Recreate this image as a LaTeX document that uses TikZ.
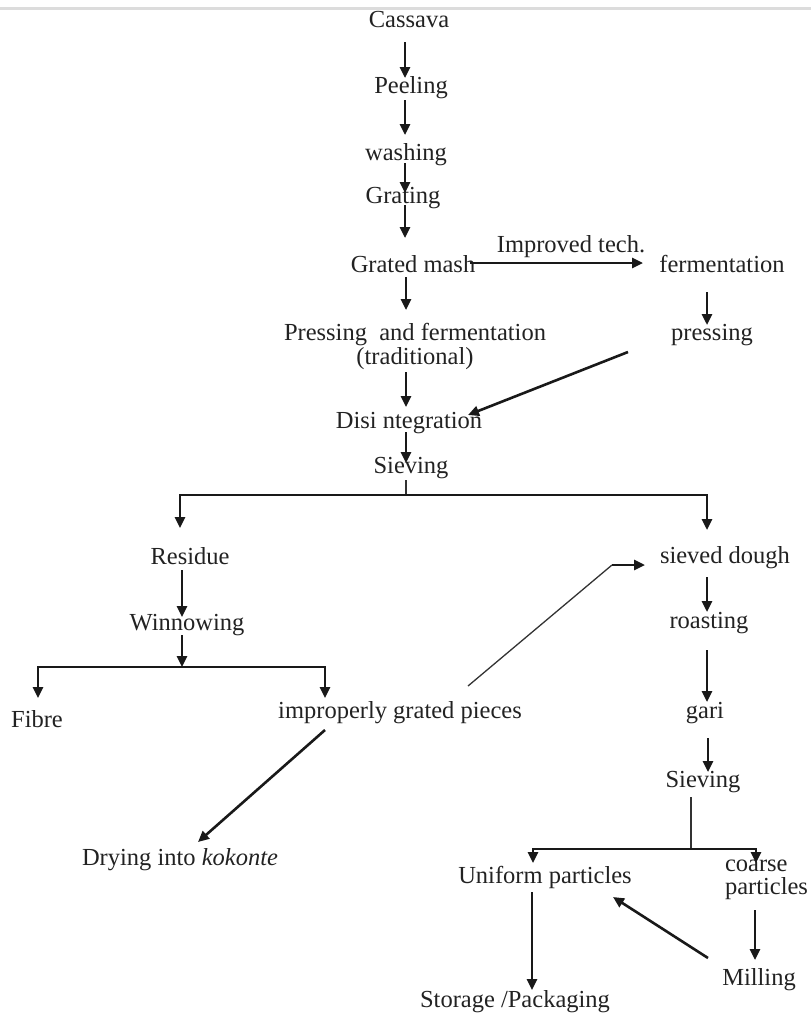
\documentclass[tikz,border=0pt]{standalone}
\usepackage{fontspec}
\setmainfont{Liberation Serif}
\usetikzlibrary{arrows.meta}
\definecolor{txt}{HTML}{222222}
\definecolor{topline}{HTML}{DCDCDC}
\begin{document}
\begin{tikzpicture}[x=1pt,y=-1pt,
  lbl/.style={inner sep=0pt,outer sep=0pt,text=txt,font=\fontsize{24.5}{22}\selectfont},
  arr/.style={line width=2.6pt,draw=black!90,-{Triangle[length=11pt,width=10pt]}},
  thinline/.style={line width=1.3pt,draw=black!80},
  thickline/.style={line width=2.6pt,draw=black!90}]
\useasboundingbox (0,0) rectangle (811,1015);
\fill[topline] (0,6.5) rectangle (811,9.5);

% nodes
\node[lbl,anchor=base] (cass) at (409,27) {Cassava};
\node[lbl,anchor=base] (peel) at (411,93) {Peeling};
\node[lbl,anchor=base] (wash) at (406,160) {washing};
\node[lbl,anchor=base] (grat) at (403,203) {Grating};
\node[lbl,anchor=base] (mash) at (413,272) {Grated mash};
\node[lbl,anchor=base] (tech) at (571,252) {Improved tech.};
\node[lbl,anchor=base] (ferm) at (722,272) {fermentation};
\node[lbl,anchor=base] (press) at (712,340) {pressing};
\node[lbl,anchor=north,align=center] (trad) at (415,323.6) {Pressing\ \ and fermentation\\(traditional)};
\node[lbl,anchor=base] (disi) at (409,428) {Disi ntegration};
\node[lbl,anchor=base] (sieva) at (411,473) {Sieving};
\node[lbl,anchor=base] (resid) at (190,564) {Residue};
\node[lbl,anchor=base] (winn) at (187,630) {Winnowing};
\node[lbl,anchor=base] (fibre) at (37,727) {Fibre};
\node[lbl,anchor=base] (impr) at (400,718) {improperly grated pieces};
\node[lbl,anchor=base] (dry) at (180,865) {Drying into \textit{kokonte}};
\node[lbl,anchor=base] (sdough) at (725,563) {sieved dough};
\node[lbl,anchor=base] (roast) at (709,628) {roasting};
\node[lbl,anchor=base] (gari) at (705,718) {gari};
\node[lbl,anchor=base] (sievb) at (703,787) {Sieving};
\node[lbl,anchor=base] (unif) at (545,883) {Uniform particles};
\node[lbl,anchor=north west,align=left,font=\fontsize{24.5}{23}\selectfont] (coarse) at (725,860) {coarse\\particles};
\node[lbl,anchor=base] (mill) at (759,985) {Milling};
\node[lbl,anchor=base] (stor) at (515,1007) {Storage /Packaging};

% main column
\draw[arr] ([shift={(-4,15)}]cass.base) -- ([shift={(-6,-15)}]peel.base);
\draw[arr] ([shift={(-6,7)}]peel.base) -- ([shift={(-1,-25)}]wash.base);
\draw[arr] ([shift={(-1,3)}]wash.base) -- ([shift={(2,-10)}]grat.base);
\draw[arr] ([shift={(2,2)}]grat.base) -- ([shift={(-8,-34)}]mash.base);
\draw[arr] ([shift={(-7,5)}]mash.base) -- ([shift={(-9,-13.6)}]trad.north);
\draw[arr] ([shift={(-9,48.4)}]trad.north) -- ([shift={(-3,-21)}]disi.base);
\draw[arr] ([shift={(-3,4)}]disi.base) -- ([shift={(-5,-10)}]sieva.base);

% improved technology branch
\draw[arr] ([shift={(57,-9)}]mash.base) -- ([shift={(-79,-9)}]ferm.base);
\draw[arr] ([shift={(-15,20)}]ferm.base) -- ([shift={(-5,-15)}]press.base);
\draw[arr] ([shift={(-84,12)}]press.base) -- ([shift={(59,-13)}]disi.base);

% sieving split
\coordinate (sj) at ([shift={(-5,22)}]sieva.base);
\draw[thinline] ([shift={(-5,7)}]sieva.base) -- (sj);
\draw[arr] (sj) -| ([shift={(-10,-36)}]resid.base);
\draw[arr] (sj) -| ([shift={(-18,-33)}]sdough.base);

% residue branch
\draw[arr] ([shift={(-8,6)}]resid.base) -- ([shift={(-5,-13)}]winn.base);
\coordinate (wj) at ([shift={(-5,37)}]winn.base);
\draw[arr] ([shift={(-5,5)}]winn.base) -- (wj);
\draw[arr] (wj) -| ([shift={(1,-29)}]fibre.base);
\draw[arr] (wj) -| ([shift={(-75,-20)}]impr.base);
\coordinate (bend) at ([shift={(-113,2)}]sdough.base);
\draw[thinline] ([shift={(68,-32)}]impr.base) -- (bend);
\draw[arr] (bend) -- ([shift={(-80,2)}]sdough.base);
\draw[arr] ([shift={(-75,12)}]impr.base) -- ([shift={(18,-23)}]dry.base);

% gari column
\draw[arr] ([shift={(-18,14)}]sdough.base) -- ([shift={(-2,-16)}]roast.base);
\draw[arr] ([shift={(-2,22)}]roast.base) -- ([shift={(2,-16)}]gari.base);
\draw[arr] ([shift={(3,20)}]gari.base) -- ([shift={(5,-15)}]sievb.base);
\coordinate (gj) at ([shift={(-12,62)}]sievb.base);
\draw[thinline] ([shift={(-12,10)}]sievb.base) -- (gj);
\draw[arr] (gj) -| ([shift={(-12,-20)}]unif.base);
\draw[arr] (gj) -| ([shift={(31,3)}]coarse.north west);
\draw[arr] ([shift={(-13,9)}]unif.base) -- ([shift={(17,-17)}]stor.base);
\draw[arr] ([shift={(30,50)}]coarse.north west) -- ([shift={(-4,-25)}]mill.base);
\draw[arr] ([shift={(-51,-27)}]mill.base) -- ([shift={(68,14)}]unif.base);
\end{tikzpicture}
\end{document}
